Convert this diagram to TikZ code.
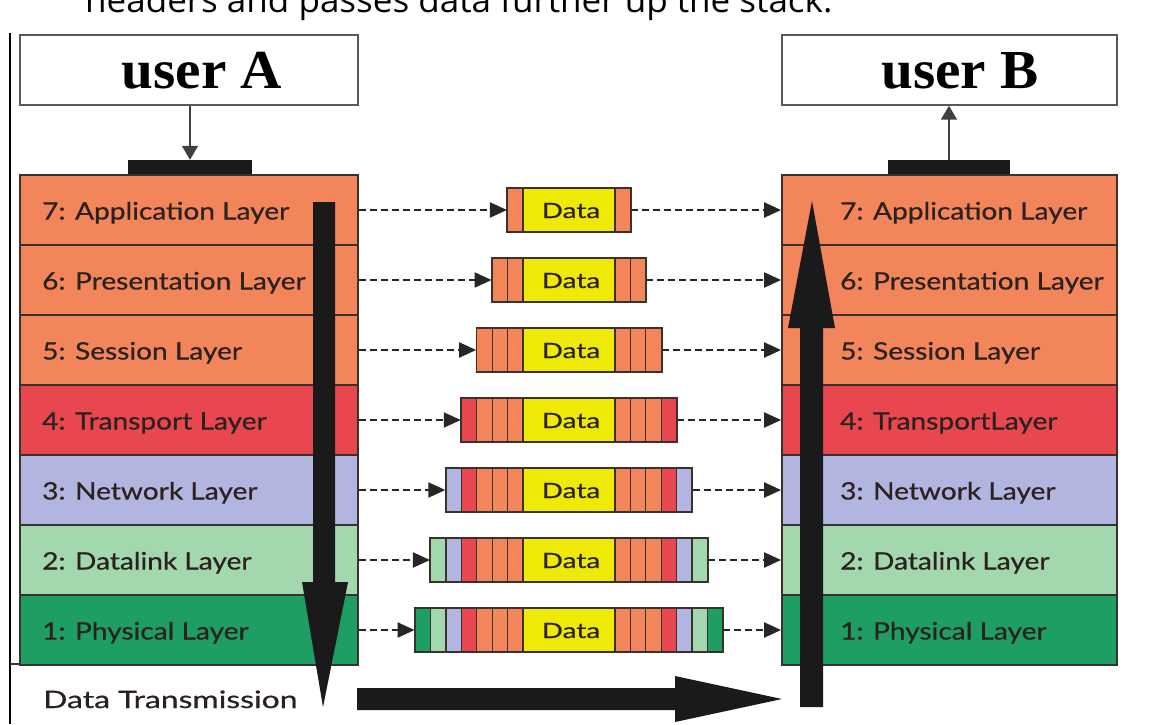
\documentclass[tikz,border=0pt]{standalone}
\usepackage{fontspec}
\setmainfont{Lato}
\newfontfamily\serifb{Liberation Serif}[FakeStretch=1.04]
\newfontfamily\topfont{Open Sans}[FakeStretch=1.03]
\newfontfamily\layf{Lato}[FakeBold=0.6, FakeStretch=1.17]
\newfontfamily\wdf{Lato}[FakeBold=0.6, FakeStretch=1.33]
\usetikzlibrary{arrows.meta}
\definecolor{cOr}{HTML}{F3855B}
\definecolor{cRd}{HTML}{E8474F}
\definecolor{cLv}{HTML}{B3B5E1}
\definecolor{cLg}{HTML}{A3D8AE}
\definecolor{cGr}{HTML}{1E9E63}
\definecolor{cYl}{HTML}{EFEA05}
\definecolor{cLn}{HTML}{3A302C}
\definecolor{cTx}{HTML}{2B2220}
\definecolor{cBk}{HTML}{1A1A1A}
\colorlet{lay7}{cOr}
\colorlet{lay6}{cOr}
\colorlet{lay5}{cOr}
\colorlet{lay4}{cRd}
\colorlet{lay3}{cLv}
\colorlet{lay2}{cLg}
\colorlet{lay1}{cGr}
\tikzset{
  userbox/.style={draw=black!65, line width=1.4pt, fill=white, minimum height=70pt, inner sep=0pt},
  usertext/.style={font=\serifb\bfseries\fontsize{55}{60}\selectfont, text=black, anchor=base, inner sep=0pt},
  layerL/.style={draw=cLn, line width=1.8pt, minimum width=338pt, minimum height=70pt, inner sep=0pt},
  layerR/.style={draw=cLn, line width=1.8pt, minimum width=335pt, minimum height=70pt, inner sep=0pt},
  ltext/.style={font=\layf\fontsize{24}{28}\selectfont, text=cTx, anchor=base west, inner sep=0pt},
  wtext/.style={font=\wdf\fontsize{24}{28}\selectfont, text=cTx, anchor=base west, inner sep=0pt},
  packet/.style={draw=cLn, line width=1.3pt, minimum height=44pt, inner sep=0pt},
  stripbox/.style={draw=cLn, line width=1.3pt},
  datatext/.style={font=\wdf\fontsize{21}{24}\selectfont, text=cTx, anchor=base, inner sep=0pt},
  bar/.style={fill=cBk, minimum width=124pt, minimum height=15pt, inner sep=0pt},
  uarrow/.style={draw=black!75, line width=1.6pt, -{Triangle[length=14pt,width=16pt]}},
  dasharrow/.style={draw=black!85, line width=2pt, dash pattern=on 7pt off 4pt, -{Triangle[length=17pt,width=15pt]}},
  bigarrow/.style={fill=cBk}
}
\begin{document}
\begin{tikzpicture}[x=1pt,y=-1pt]
\useasboundingbox (0,0) rectangle (1160,724);
\clip (0,0) rectangle (1160,724);
\fill[white] (0,0) rectangle (1160,724);

% heading text, cut off at the top edge as in the reference
\node[anchor=base west, inner sep=0pt, font=\topfont\fontsize{34}{38}\selectfont, text=black] (head) at (85,12) {headers and passes data further up the stack.};

% left frame line
\draw[line width=1.2pt, black] (10,33) -- (10,724);
\draw[line width=1.2pt, cLn] (10,664) -- (20,664);

% user boxes
\node[userbox, minimum width=338pt] (uA) at (189,70) {};
\node[usertext] (tA) at (202,88) {user A};
\node[userbox, minimum width=335pt] (uB) at (949.5,70) {};
\node[usertext] (tB) at (960,88) {user B};

% bars
\node[bar] (barA) at (190,167.5) {};
\node[bar, minimum width=122pt] (barB) at (949,167.5) {};

% left stack
\node[layerL, fill=cOr] (L7) at (189,210) {};
\node[layerL, fill=cOr] (L6) at (189,280) {};
\node[layerL, fill=cOr] (L5) at (189,350) {};
\node[layerL, fill=cRd] (L4) at (189,420) {};
\node[layerL, fill=cLv] (L3) at (189,490) {};
\node[layerL, fill=cLg] (L2) at (189,560) {};
\node[layerL, fill=cGr] (L1) at (189,630) {};
\node[ltext] at (42,219.5) {7: Application Layer};
\node[ltext] at (42,289.5) {6: Presentation Layer};
\node[ltext] at (42,359.5) {5: Session Layer};
\node[ltext] at (42,429.5) {4: Transport Layer};
\node[ltext] at (42,499.5) {3: Network Layer};
\node[ltext] at (42,569.5) {2: Datalink Layer};
\node[ltext] at (42,639.5) {1: Physical Layer};

% right stack
\node[layerR, fill=cOr] (R7) at (949.5,210) {};
\node[layerR, fill=cOr] (R6) at (949.5,280) {};
\node[layerR, fill=cOr] (R5) at (949.5,350) {};
\node[layerR, fill=cRd] (R4) at (949.5,420) {};
\node[layerR, fill=cLv] (R3) at (949.5,490) {};
\node[layerR, fill=cLg] (R2) at (949.5,560) {};
\node[layerR, fill=cGr] (R1) at (949.5,630) {};
\node[ltext] at (840,219.5) {7: Application Layer};
\node[ltext] at (840,289.5) {6: Presentation Layer};
\node[ltext] at (840,359.5) {5: Session Layer};
\node[ltext] at (840,429.5) {4: TransportLayer};
\node[ltext] at (840,499.5) {3: Network Layer};
\node[ltext] at (840,569.5) {2: Datalink Layer};
\node[ltext] at (840,639.5) {1: Physical Layer};

% user arrows
\draw[uarrow] (uA.south -| barA.north) -- (barA.north);
\draw[uarrow] (barB.north) -- (barB.north |- uB.south);

% packets and dashed arrows
\foreach \nl in {7,6,5,4,3,2,1}{
  \pgfmathtruncatemacro\nstrip{8-\nl}
  \pgfmathsetmacro\ycen{210+(7-\nl)*70}
  \pgfmathsetmacro\pwid{92+2*\nstrip*15.4}
  \node[packet, minimum width=\pwid pt, fill=cYl] (P\nl) at (569,\ycen) {};
  \foreach \ii in {1,...,\nstrip}{
    \pgfmathtruncatemacro\lidx{8-\ii}
    \draw[stripbox, fill=lay\lidx] (523-\ii*15.4, \ycen-22) rectangle ++(15.4,44);
    \draw[stripbox, fill=lay\lidx] (615+\ii*15.4-15.4, \ycen-22) rectangle ++(15.4,44);
  }
  \draw[stripbox] (P\nl.north west) rectangle (P\nl.south east);
  \node[datatext] at (571,\ycen+8) {Data};
  \draw[dasharrow] (L\nl.east) -- (P\nl.west);
  \draw[dasharrow] (P\nl.east) -- (R\nl.west);
}

% big arrows
\fill[bigarrow] (313,202) -- (335,202) -- (335,582) -- (348,582) -- (323,707) -- (302,582) -- (313,582) -- cycle;
\fill[bigarrow] (357,688) -- (675,688) -- (675,676) -- (782,699) -- (675,722) -- (675,710) -- (357,710) -- cycle;
\fill[bigarrow] (800,707) -- (823,707) -- (823,328) -- (835,328) -- (812,201) -- (788,328) -- (800,328) -- cycle;

\node[wtext] (dt) at (43,708) {Data Transmission};
\end{tikzpicture}
\end{document}
